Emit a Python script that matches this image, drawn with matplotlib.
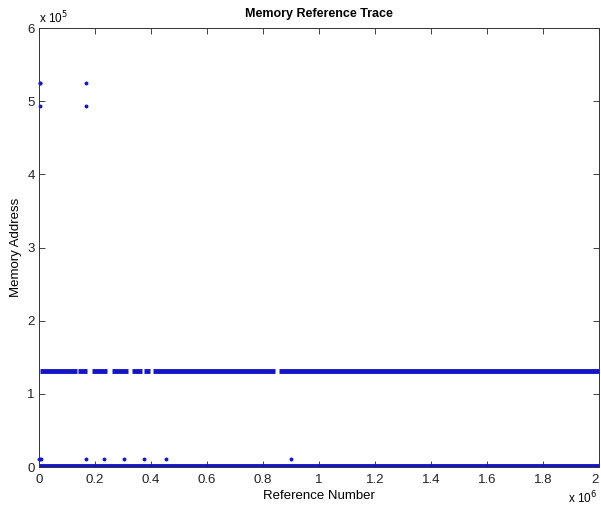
import numpy as np
import matplotlib
matplotlib.use("Agg")
import matplotlib.pyplot as plt

plt.rcParams['font.family'] = ['Liberation Sans', 'DejaVu Sans']

# dense address bands, drawn as runs (start, end) in units of 1e6 references
upper_level = 1.31          # x 1e5
upper_starts = [0.004, 0.139, 0.189, 0.261, 0.332, 0.375, 0.407, 0.857]
upper_ends = [0.136, 0.171, 0.243, 0.318, 0.368, 0.396, 0.843, 2.0]
lower_level = 0.02
lower_starts = [0.0]
lower_ends = [2.0]

# isolated references
dots_x = [0.0, 0.003, 0.006, 0.168, 0.232, 0.304, 0.375, 0.454, 0.9,
          0.002, 0.005, 0.168, 0.002, 0.168]
dots_y = [0.11, 0.11, 0.11, 0.11, 0.11, 0.11, 0.11, 0.11, 0.11,
          5.25, 5.25, 5.25, 4.93, 4.93]

xticks = [0, 0.2, 0.4, 0.6, 0.8, 1, 1.2, 1.4, 1.6, 1.8, 2]
yticks = [0, 1, 2, 3, 4, 5, 6]

col = '#1414c8'
fig = plt.figure(figsize=(6.01, 5.08), dpi=100)
ax = fig.add_axes([39/601, 41/508, 560/601, 439/508])

for s, e in zip(upper_starts, upper_ends):
    ax.plot([s, e], [upper_level, upper_level], color=col, lw=3.5, solid_capstyle='butt')
for s, e in zip(lower_starts, lower_ends):
    ax.plot([s, e], [lower_level, lower_level], color=col, lw=3.5, solid_capstyle='butt')
ax.plot(dots_x, dots_y, 'o', color=col, ms=2.8, mew=0, clip_on=False)

ax.set_xlim(0, 2)
ax.set_ylim(0, 6)
ax.set_xticks(xticks)
ax.set_xticklabels(['0', '0.2', '0.4', '0.6', '0.8', '1', '1.2', '1.4', '1.6', '1.8', '2'])
ax.get_xticklabels()[-1].set_horizontalalignment('right')  # keep the last label inside the canvas
ax.set_yticks(yticks)
ax.set_yticklabels([str(t) for t in yticks])
ax.tick_params(direction='in', top=True, right=True, labelsize=9.5, length=4,
               width=0.6, colors='#222222')
ax.tick_params(axis='x', pad=5)
ax.tick_params(axis='y', pad=3)
for sp in ax.spines.values():
    sp.set_linewidth(0.7)
    sp.set_color('#333333')

ax.set_title('Memory Reference Trace', fontsize=9, fontweight='bold', pad=8)
ax.set_xlabel('Reference Number', fontsize=9.5, labelpad=3)
ax.set_ylabel('Memory Address', fontsize=9.5, labelpad=4)
ax.text(0.0, 1.005, r'x 10$^5$', transform=ax.transAxes, fontsize=8.5, va='bottom', ha='left')
ax.text(0.997, -0.052, r'x 10$^6$', transform=ax.transAxes, fontsize=8.5, va='top', ha='right')

fig.savefig('out.png', dpi=100)
